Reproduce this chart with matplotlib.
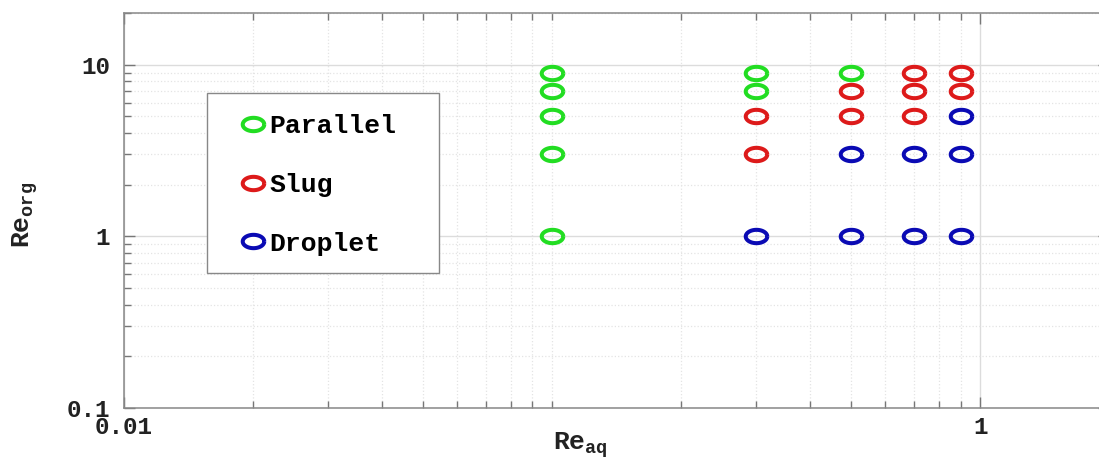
import matplotlib
matplotlib.use("Agg")
import matplotlib.pyplot as plt
from matplotlib.path import Path
from matplotlib.patches import Rectangle
import numpy as np

# flow regime map: aqueous vs organic Reynolds number
re_aq_parallel = [0.1, 0.1, 0.1, 0.1, 0.1, 0.3, 0.3, 0.5]
re_org_parallel = [9, 7, 5, 3, 1, 9, 7, 9]

re_aq_slug = [0.3, 0.3, 0.5, 0.5, 0.7, 0.7, 0.7, 0.9, 0.9]
re_org_slug = [5, 3, 7, 5, 9, 7, 5, 9, 7]

re_aq_droplet = [0.3, 0.5, 0.5, 0.7, 0.7, 0.9, 0.9, 0.9]
re_org_droplet = [1, 3, 1, 3, 1, 5, 3, 1]

labels = ["Parallel", "Slug", "Droplet"]
colors = ["#22dd22", "#dd1a1a", "#0a0ab4"]

plt.rcParams["mathtext.fontset"] = "custom"
plt.rcParams["mathtext.bf"] = "Liberation Mono:bold"
plt.rcParams["mathtext.rm"] = "Liberation Mono:bold"

# open ellipse marker (wider than tall)
t = np.linspace(0, 2*np.pi, 60)
ell = Path(np.column_stack([np.cos(t), 0.62*np.sin(t)]))

W, H = 1099, 463
fig = plt.figure(figsize=(W/100, H/100), dpi=100)
ax = fig.add_axes([124/W, 55/H, 985/W, 395/H])

data = [(re_aq_parallel, re_org_parallel),
        (re_aq_slug, re_org_slug),
        (re_aq_droplet, re_org_droplet)]
handles = []
for (xs, ys), lab, col in zip(data, labels, colors):
    h, = ax.plot(xs, ys, linestyle="none", marker=ell, markersize=15.5,
                 markerfacecolor="none", markeredgecolor=col,
                 markeredgewidth=2.9, label=lab, zorder=3)
    handles.append(h)

ax.set_xscale("log")
ax.set_yscale("log")
ax.set_xlim(0.01, 2)
ax.set_ylim(0.1, 20)

ax.set_xticks([0.01, 1])
ax.set_xticklabels(["0.01", "1"])
ax.set_xticks([0.02, 0.03, 0.04, 0.05, 0.06, 0.07, 0.08, 0.09, 0.1,
               0.2, 0.3, 0.4, 0.5, 0.6, 0.7, 0.8, 0.9, 2], minor=True)
ax.set_yticks([0.1, 1, 10])
ax.set_yticklabels(["0.1", "1", "10"])
ax.set_yticks([0.2, 0.3, 0.4, 0.5, 0.6, 0.7, 0.8, 0.9,
               2, 3, 4, 5, 6, 7, 8, 9, 20], minor=True)
ax.yaxis.set_minor_formatter(plt.NullFormatter())
ax.xaxis.set_minor_formatter(plt.NullFormatter())

tickfont = matplotlib.font_manager.FontProperties(family="Liberation Mono",
                                                   weight="bold", size=17.5)
for lab in ax.get_xticklabels() + ax.get_yticklabels():
    lab.set_fontproperties(tickfont)

ax.tick_params(which="both", direction="in", top=True, right=True,
               colors="#777777", labelcolor="#222222")
ax.tick_params(which="major", length=8, width=1)
ax.tick_params(which="minor", length=5, width=1)
ax.tick_params(axis="y", pad=10)
ax.tick_params(axis="x", pad=6)

ax.grid(True, which="major", color="#dcdcdc", linewidth=1, linestyle="-")
ax.grid(True, which="minor", color="#e4e4e4", linewidth=0.9, linestyle=":")
ax.set_axisbelow(True)
for s in ax.spines.values():
    s.set_color("#888888")
    s.set_linewidth(1.1)

ax.set_xlabel(r"$\mathbf{Re}_{\mathbf{aq}}$", fontsize=19, color="#222222")
ax.xaxis.set_label_coords((580 - 124)/985, -0.055)
ax.set_ylabel(r"$\mathbf{Re}_{\mathbf{org}}$", fontsize=19, color="#222222")
ax.yaxis.set_label_coords(-(124 - 40)/985, (H - 55 - 215)/395)

# legend box drawn separately so the entries can sit inside with wide margins
box = Rectangle((207/W, 1 - 273/H), (439 - 207)/W, (273 - 93)/H,
                transform=fig.transFigure, facecolor="white",
                edgecolor="#888888", linewidth=1.0, zorder=4)
fig.add_artist(box)

leg = fig.legend(handles, labels, loc="upper left",
                 bbox_to_anchor=(242/W, 1 - 114/H),
                 bbox_transform=fig.transFigure, frameon=False,
                 prop=dict(family="Liberation Mono", weight="bold", size=19),
                 labelspacing=1.32, handlelength=0.8, handletextpad=0.25,
                 borderpad=0, borderaxespad=0)
leg.set_zorder(5)

fig.savefig("out.png", dpi=100, facecolor="white")
